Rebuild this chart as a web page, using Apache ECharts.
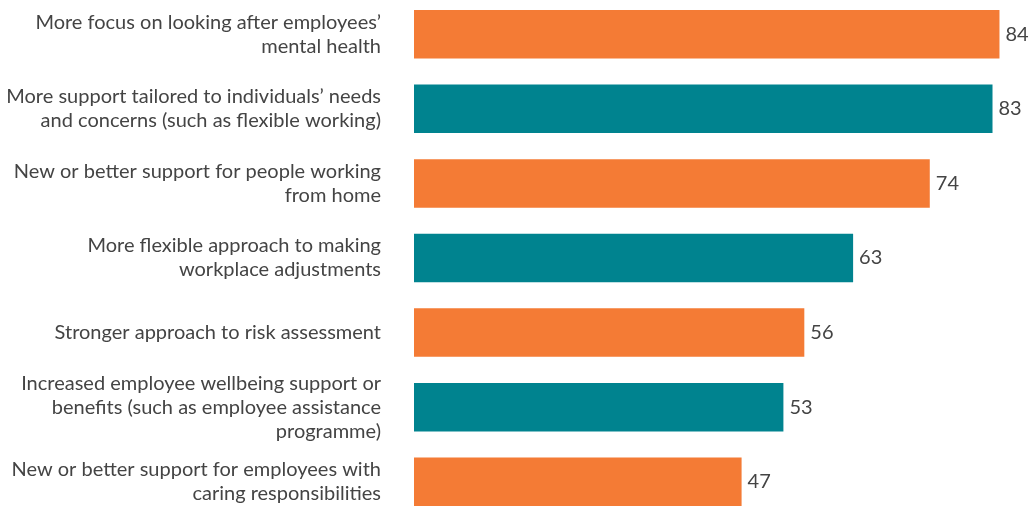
<!DOCTYPE html>
<html><head><meta charset="utf-8">
<script src="https://cdn.jsdelivr.net/npm/echarts@6/dist/echarts.min.js"></script>
<style>html,body{margin:0;padding:0;background:#fff}#c{width:1033px;height:506px}</style>
</head><body><div id="c"></div>
<script>
const categories = [
  "More focus on looking after employees’\nmental health",
  "More support tailored to individuals’ needs\nand concerns (such as flexible working)",
  "New or better support for people working\nfrom home",
  "More flexible approach to making\nworkplace adjustments",
  "Stronger approach to risk assessment",
  "Increased employee wellbeing support or\nbenefits (such as employee assistance\nprogramme)",
  "New or better support for employees with\ncaring responsibilities"
];
const values = [84, 83, 74, 63, 56, 53, 47];
const barColors = ["#F47B35", "#00838F"];

const chart = echarts.init(document.getElementById('c'), null, {renderer: 'canvas'});
chart.setOption({
  animation: false,
  grid: {left: 414, width: 88 * 6.97, top: -3, height: 522, containLabel: false, outerBoundsMode: 'none'},
  xAxis: {type: 'value', min: 0, max: 88, show: false},
  yAxis: {
    type: 'category', inverse: true, data: categories,
    axisLine: {show: false}, axisTick: {show: false},
    axisLabel: {margin: 33, fontFamily: 'Lato', fontSize: 20, lineHeight: 24, color: '#444', align: 'right'}
  },
  series: [{
    type: 'bar', barWidth: 48.5,
    data: values.map((v, i) => ({value: v, itemStyle: {color: barColors[i % 2]}})),
    label: {show: true, position: 'right', distance: 6, fontFamily: 'Lato', fontSize: 20, color: '#444'}
  }]
});
</script></body></html>
